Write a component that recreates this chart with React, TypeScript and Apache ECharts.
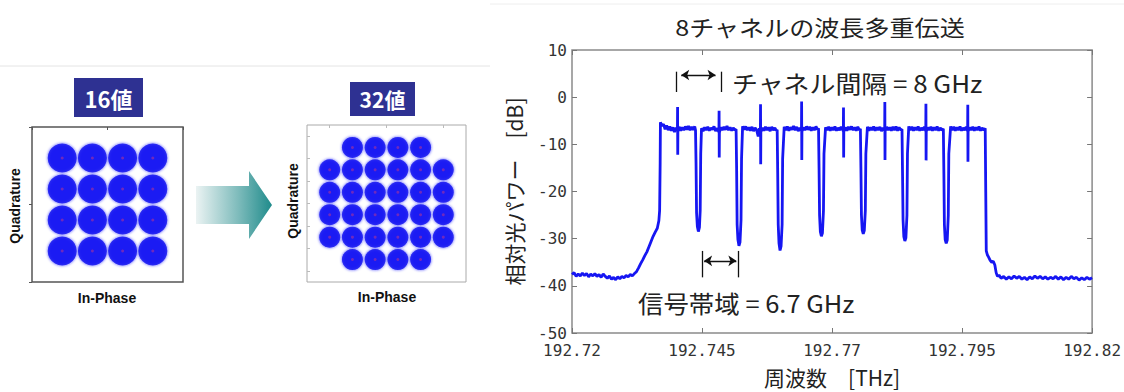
import React, { useEffect, useRef } from "react";
import * as echarts from "echarts";

// ---------- tick labels ----------
const xTickLabels = ["192.72", "192.745", "192.77", "192.795", "192.82"];

// ---------- constellations ----------
const qam16: [number, number][] = [
  [-3, 3], [-1, 3], [1, 3], [3, 3],
  [-3, 1], [-1, 1], [1, 1], [3, 1],
  [-3, -1], [-1, -1], [1, -1], [3, -1],
  [-3, -3], [-1, -3], [1, -3], [3, -3],
];
const qam32: [number, number][] = [
  [-3, 5], [-1, 5], [1, 5], [3, 5],
  [-5, 3], [-3, 3], [-1, 3], [1, 3], [3, 3], [5, 3],
  [-5, 1], [-3, 1], [-1, 1], [1, 1], [3, 1], [5, 1],
  [-5, -1], [-3, -1], [-1, -1], [1, -1], [3, -1], [5, -1],
  [-5, -3], [-3, -3], [-1, -3], [1, -3], [3, -3], [5, -3],
  [-3, -5], [-1, -5], [1, -5], [3, -5],
];

// ---------- spectrum: [offset from 192.72 THz in GHz, relative power dB] ----------
const leftFloor: [number, number][] = [
  [0, -37.6], [0.4, -37.2], [0.8, -38.0], [1.2, -37.5], [1.6, -37.9], [2.0, -37.3], [2.4, -37.8],
  [2.8, -37.4], [3.2, -38.1], [3.6, -37.5], [4.0, -37.9], [4.4, -37.4], [4.8, -38.0], [5.2, -37.6],
  [5.6, -38.2], [6.0, -37.5], [6.4, -38.0], [6.8, -38.4], [7.2, -37.9], [7.6, -38.6], [8.0, -38.2],
  [8.4, -38.7], [8.8, -38.1], [9.2, -38.5], [9.6, -38.0], [10.0, -38.3], [10.4, -37.8], [10.8, -38.1],
  [11.2, -37.6], [11.6, -37.9], [12.0, -37.4],
  [12.4, -37.0], [12.8, -36.2], [13.2, -35.3], [13.6, -34.5], [14.0, -33.6], [14.4, -32.8],
  [14.8, -31.7], [15.2, -30.6], [15.6, -29.5], [16.0, -28.6], [16.4, -27.8], [16.7, -26.2],
  [16.85, -24.0], [16.95, -14.0],
];
const channel1: [number, number][] = [
  [17.0, -5.3], [17.3, -6.1], [17.6, -5.7], [17.9, -6.8], [18.2, -6.0], [18.5, -7.0], [18.8, -6.2],
  [19.1, -7.1], [19.4, -6.4], [19.7, -7.4], [20.0, -6.5], [20.27, -7.0], [20.3, -2.1], [20.33, -12.2],
  [20.36, -7.2], [20.6, -6.3], [20.9, -7.1], [21.2, -6.4], [21.5, -7.0], [21.8, -6.2], [22.1, -6.9],
  [22.4, -6.1], [22.7, -7.0], [23.0, -6.3], [23.3, -6.9], [23.6, -6.2], [23.75, -7.0],
  [23.85, -14.0], [23.95, -24.5], [24.1, -27.4], [24.3, -28.5], [24.5, -27.6], [24.65, -24.0], [24.75, -12.0],
];
const channel2: [number, number][] = [
  [24.9, -6.6], [25.2, -7.2], [25.5, -6.4], [25.8, -7.0], [26.1, -6.3], [26.4, -7.1], [26.7, -6.5],
  [27.0, -6.9], [27.3, -6.2], [27.6, -7.2], [27.9, -6.6], [28.25, -7.4], [28.28, -2.9], [28.31, -12.8],
  [28.34, -7.5], [28.6, -6.4], [28.9, -7.0], [29.2, -6.3], [29.5, -6.9], [29.8, -6.1], [30.1, -7.0],
  [30.4, -6.4], [30.7, -7.1], [31.0, -6.5], [31.3, -7.0], [31.55, -6.8],
  [31.65, -15.0], [31.75, -27.0], [31.9, -30.2], [32.1, -31.5], [32.3, -30.8], [32.5, -26.0], [32.6, -13.0],
];
const channel3: [number, number][] = [
  [32.8, -6.2], [33.1, -6.9], [33.4, -6.2], [33.7, -7.0], [34.0, -6.4], [34.3, -7.1], [34.6, -6.3],
  [34.9, -7.2], [35.2, -6.5], [35.5, -7.0], [35.8, -8.3], [36.0, -6.6], [36.22, -7.3], [36.25, -1.5],
  [36.28, -14.2], [36.31, -7.4], [36.6, -6.5], [36.9, -7.1], [37.2, -6.3], [37.5, -7.0], [37.8, -6.4],
  [38.1, -7.2], [38.4, -6.3], [38.7, -7.0], [39.0, -6.5], [39.3, -7.1], [39.45, -6.9],
  [39.55, -16.0], [39.65, -27.0], [39.8, -31.0], [40.0, -32.5], [40.2, -31.6], [40.4, -27.0], [40.5, -13.0],
];
const channel4: [number, number][] = [
  [40.8, -6.3], [41.1, -7.0], [41.4, -6.2], [41.7, -7.1], [42.0, -6.4], [42.3, -6.9], [42.6, -6.1],
  [42.9, -7.0], [43.2, -6.3], [43.5, -7.2], [43.8, -6.5], [44.12, -7.1], [44.15, -0.9], [44.18, -13.3],
  [44.21, -7.3], [44.5, -6.4], [44.8, -7.0], [45.1, -6.2], [45.4, -6.9], [45.7, -6.3], [46.0, -7.1],
  [46.3, -6.4], [46.6, -7.0], [46.9, -6.2], [47.2, -6.9], [47.4, -6.6],
  [47.5, -15.0], [47.6, -25.0], [47.75, -28.5], [47.95, -29.5], [48.15, -28.8], [48.35, -24.0], [48.45, -12.0],
];
const channel5: [number, number][] = [
  [48.75, -6.4], [49.05, -7.0], [49.35, -6.3], [49.65, -7.1], [49.95, -6.4], [50.25, -7.0], [50.55, -6.2],
  [50.85, -7.1], [51.15, -6.5], [51.45, -7.0], [51.75, -6.3], [52.17, -7.2], [52.2, -2.2], [52.23, -12.8],
  [52.26, -7.3], [52.55, -6.4], [52.85, -7.1], [53.15, -6.3], [53.45, -6.9], [53.75, -6.2], [54.05, -7.0],
  [54.35, -6.4], [54.65, -7.1], [54.95, -6.3], [55.25, -7.0], [55.45, -6.7],
  [55.55, -15.0], [55.65, -25.0], [55.8, -28.2], [56.0, -29.0], [56.2, -28.3], [56.4, -24.0], [56.5, -12.0],
];
const channel6: [number, number][] = [
  [56.8, -6.3], [57.1, -7.1], [57.4, -6.4], [57.7, -7.0], [58.0, -6.2], [58.3, -7.1], [58.6, -6.4],
  [58.9, -7.0], [59.2, -6.3], [59.5, -7.2], [59.8, -6.5], [60.12, -7.1], [60.15, -1.0], [60.18, -13.3],
  [60.21, -7.2], [60.5, -6.3], [60.8, -7.0], [61.1, -6.4], [61.4, -7.1], [61.7, -6.3], [62.0, -7.0],
  [62.3, -6.2], [62.6, -7.1], [62.9, -6.4], [63.2, -7.0], [63.45, -6.8],
  [63.55, -16.0], [63.65, -26.0], [63.8, -29.6], [64.0, -30.5], [64.2, -29.8], [64.4, -25.0], [64.5, -12.0],
];
const channel7: [number, number][] = [
  [64.75, -6.2], [65.05, -7.0], [65.35, -6.3], [65.65, -7.1], [65.95, -6.4], [66.25, -7.0], [66.55, -6.2],
  [66.85, -7.1], [67.15, -6.5], [67.45, -7.0], [67.75, -6.3], [68.02, -7.2], [68.05, -1.4], [68.08, -13.4],
  [68.11, -7.3], [68.4, -6.4], [68.7, -7.0], [69.0, -6.3], [69.3, -7.1], [69.6, -6.4], [69.9, -7.0],
  [70.2, -6.2], [70.5, -7.1], [70.8, -6.5], [71.1, -7.0], [71.4, -6.7],
  [71.5, -16.0], [71.6, -27.0], [71.75, -30.2], [71.95, -31.0], [72.15, -30.3], [72.35, -25.0], [72.45, -12.0],
];
const channel8: [number, number][] = [
  [72.8, -6.2], [73.1, -7.0], [73.4, -6.3], [73.7, -7.1], [74.0, -6.4], [74.3, -7.0], [74.6, -6.2],
  [74.9, -7.1], [75.2, -6.5], [75.5, -7.0], [75.8, -6.3], [76.07, -7.2], [76.1, -1.6], [76.13, -13.7],
  [76.16, -7.3], [76.45, -6.4], [76.75, -7.0], [77.05, -6.3], [77.35, -7.1], [77.65, -6.4], [77.95, -7.0],
  [78.25, -6.2], [78.55, -7.1], [78.85, -6.5], [79.15, -7.0], [79.45, -6.6],
];
const rightFloor: [number, number][] = [
  [79.55, -20.0], [79.65, -32.6], [79.85, -33.4], [80.1, -33.9], [80.4, -34.6], [80.7, -35.0],
  [81.0, -34.8], [81.3, -35.6], [81.55, -37.2], [81.8, -38.0], [82.1, -37.7],
  [82.5, -38.4], [83.0, -38.0], [83.5, -38.6], [84.0, -38.1], [84.5, -38.5], [85.0, -37.9],
  [85.5, -38.4], [86.0, -38.0], [86.5, -38.6], [87.0, -38.2], [87.5, -38.7], [88.0, -38.1],
  [88.5, -38.5], [89.0, -37.9], [89.5, -38.4], [90.0, -38.0], [90.5, -38.5], [91.0, -38.1],
  [91.5, -38.6], [92.0, -38.2], [92.5, -38.5], [93.0, -38.0], [93.5, -38.6], [94.0, -38.1],
  [94.5, -38.7], [95.0, -38.2], [95.5, -38.6], [96.0, -38.0], [96.5, -38.5], [97.0, -38.2],
  [97.5, -38.8], [98.0, -38.3], [98.5, -38.7], [99.0, -38.2], [99.5, -38.6], [100, -38.3],
];

const spectrum = [
  ...leftFloor, ...channel1, ...channel2, ...channel3, ...channel4,
  ...channel5, ...channel6, ...channel7, ...channel8, ...rightFloor,
];

// annotation positions (GHz offset, dB)
const spacingBars = [20.1, 28.7];
const spacingArrow = [21.0, 27.6];
const bandBars = [25.1, 31.9];
const bandArrow = [25.4, 31.6];

const JP = '"Noto Sans CJK JP", sans-serif';
const MONO = '"DejaVu Sans Mono", monospace';
const BLUE = "#1616f2";

const hiddenAxisBase = {
  type: "value" as const,
  axisLabel: { show: false },
  splitLine: { show: false },
  axisLine: { show: false, onZero: false },
};

export default function App() {
  const ref = useRef<HTMLDivElement>(null);
  useEffect(() => {
    document.body.style.margin = "0";
    const chart = echarts.init(ref.current!, null, { renderer: "svg" });

    const clusterStyle = (size: number) => ({
      type: "scatter" as const,
      symbol: "circle",
      symbolSize: size,
      itemStyle: { color: "#1010f0", shadowBlur: 3, shadowColor: "rgba(20,20,255,0.9)" },
      silent: true,
    });
    const centerStyle = {
      type: "scatter" as const,
      symbol: "circle",
      symbolSize: 3,
      itemStyle: { color: "rgba(220,60,120,0.55)" },
      silent: true,
    };

    const option: any = {
      animation: false,
      backgroundColor: "#ffffff",
      grid: [
        { left: 32, top: 127, width: 151, height: 155, show: true, borderColor: "#555", borderWidth: 1.5, backgroundColor: "#fff" },
        { left: 307, top: 125, width: 159, height: 157, show: true, borderColor: "#aaa", borderWidth: 1, backgroundColor: "#fff" },
        { left: 572, top: 50, width: 521, height: 286, show: true, borderColor: "#8a8a8a", borderWidth: 1.5, backgroundColor: "#fff" },
      ],
      xAxis: [
        { ...hiddenAxisBase, gridIndex: 0, min: -5, max: 5, interval: 5, position: "top",
          axisTick: { show: true, inside: true, length: 3, lineStyle: { color: "#555" } } },
        { ...hiddenAxisBase, gridIndex: 1, min: -7, max: 7, position: "top",
          axisTick: { show: true, inside: true, length: 3, customValues: [-5, 0, 5], lineStyle: { color: "#bbb" } } },
        {
          type: "value", gridIndex: 2, min: 0, max: 100, interval: 25,
          axisLine: { show: false, onZero: false },
          splitLine: { show: false },
          axisTick: { show: true, inside: true, length: 5, lineStyle: { color: "#777" } },
          axisLabel: {
            formatter: (v: number) => xTickLabels[Math.round(v / 25)] ?? "",
            fontFamily: MONO, fontSize: 16, color: "#333", margin: 9,
          },
          name: "周波数　[THz]", nameLocation: "middle", nameGap: 33,
          nameTextStyle: { fontFamily: JP, fontSize: 21, color: "#222" },
        },
        { ...hiddenAxisBase, gridIndex: 2, min: 0, max: 100, interval: 25, position: "top",
          axisTick: { show: true, inside: true, length: 5, lineStyle: { color: "#777" } } },
      ],
      yAxis: [
        { ...hiddenAxisBase, gridIndex: 0, min: -5, max: 5, interval: 5,
          axisTick: { show: true, inside: false, length: 3, lineStyle: { color: "#555" } } },
        { ...hiddenAxisBase, gridIndex: 1, min: -7, max: 7,
          axisTick: { show: true, inside: true, length: 3, customValues: [-6, -4, -2, 0, 2, 4, 6], lineStyle: { color: "#bbb" } } },
        {
          type: "value", gridIndex: 2, min: -50, max: 10, interval: 10,
          axisLine: { show: false, onZero: false },
          splitLine: { show: false },
          axisTick: { show: true, inside: true, length: 5, lineStyle: { color: "#777" } },
          axisLabel: { fontFamily: MONO, fontSize: 16, color: "#333", margin: 5 },
          name: "相対光パワー　[dB]", nameLocation: "middle", nameGap: 48,
          nameTextStyle: { fontFamily: JP, fontSize: 21, color: "#222" },
        },
        { ...hiddenAxisBase, gridIndex: 2, min: -50, max: 10, interval: 10, position: "right",
          axisTick: { show: true, inside: true, length: 5, lineStyle: { color: "#777" } } },
      ],
      series: [
        { ...clusterStyle(29), name: "16値", xAxisIndex: 0, yAxisIndex: 0, data: qam16 },
        { ...centerStyle, xAxisIndex: 0, yAxisIndex: 0, data: qam16 },
        { ...clusterStyle(21), name: "32値", xAxisIndex: 1, yAxisIndex: 1, data: qam32 },
        { ...centerStyle, xAxisIndex: 1, yAxisIndex: 1, data: qam32 },
        {
          type: "line", name: "spectrum", xAxisIndex: 2, yAxisIndex: 2,
          data: spectrum, showSymbol: false, silent: true,
          lineStyle: { color: BLUE, width: 2.8 },
          markLine: {
            silent: true, animation: false,
            symbol: ["none", "none"], symbolSize: 8,
            label: { show: false },
            lineStyle: { color: "#111", width: 1.3, type: "solid" },
            data: [
              [{ coord: [spacingBars[0], 5.4] }, { coord: [spacingBars[0], 1.1] }],
              [{ coord: [spacingBars[1], 5.4] }, { coord: [spacingBars[1], 1.1] }],
              [{ coord: [spacingArrow[0], 4.7], symbol: "arrow" }, { coord: [spacingArrow[1], 4.7], symbol: "arrow" }],
              [{ coord: [bandBars[0], -32.6] }, { coord: [bandBars[0], -38.2] }],
              [{ coord: [bandBars[1], -32.6] }, { coord: [bandBars[1], -38.2] }],
              [{ coord: [bandArrow[0], -34.7], symbol: "arrow" }, { coord: [bandArrow[1], -34.7], symbol: "arrow" }],
            ],
          },
        },
      ],
      graphic: [
        { type: "line", shape: { x1: 0, y1: 66, x2: 490, y2: 66 }, style: { stroke: "#e4e4e4", lineWidth: 1 } },
        { type: "line", shape: { x1: 490, y1: 4, x2: 1124, y2: 4 }, style: { stroke: "#eeeeee", lineWidth: 1 } },
        // header boxes
        { type: "rect", shape: { x: 74, y: 78, width: 69, height: 39 }, style: { fill: "#2e3192" } },
        { type: "text", x: 108.5, y: 98, style: { text: "16値", fill: "#fff", font: `bold 22px ${JP}`, align: "center", verticalAlign: "middle" } },
        { type: "rect", shape: { x: 350, y: 82, width: 65, height: 34 }, style: { fill: "#2e3192" } },
        { type: "text", x: 382.5, y: 99, style: { text: "32値", fill: "#fff", font: `bold 21px ${JP}`, align: "center", verticalAlign: "middle" } },
        // axis titles of constellations
        { type: "text", x: 15, y: 206, rotation: Math.PI / 2, style: { text: "Quadrature", fill: "#111", font: 'bold 14px "Liberation Sans", Arial, sans-serif', align: "center", verticalAlign: "middle" } },
        { type: "text", x: 107, y: 298, style: { text: "In-Phase", fill: "#111", font: 'bold 14px "Liberation Sans", Arial, sans-serif', align: "center", verticalAlign: "middle" } },
        { type: "text", x: 293, y: 201, rotation: Math.PI / 2, style: { text: "Quadrature", fill: "#111", font: 'bold 14px "Liberation Sans", Arial, sans-serif', align: "center", verticalAlign: "middle" } },
        { type: "text", x: 387, y: 297, style: { text: "In-Phase", fill: "#111", font: 'bold 14px "Liberation Sans", Arial, sans-serif', align: "center", verticalAlign: "middle" } },
        // arrow
        {
          type: "polygon",
          shape: { points: [[196, 186], [249, 186], [249, 171], [272, 205], [249, 239], [249, 224], [196, 224]] },
          style: {
            fill: {
              type: "linear", x: 0, y: 0, x2: 1, y2: 0,
              colorStops: [
                { offset: 0, color: "rgba(235,243,243,1)" },
                { offset: 0.55, color: "#7fbcbc" },
                { offset: 1, color: "#1f8b8b" },
              ],
            },
          },
        },
        // spectrum title and annotations
        { type: "text", x: 820, y: 27, scaleX: 1.14, style: { text: "8チャネルの波長多重伝送", fill: "#222", font: `22px ${JP}`, align: "center", verticalAlign: "middle" } },
        { type: "text", x: 732, y: 82, scaleX: 1.08, style: { text: "チャネル間隔 = 8 GHz", fill: "#222", font: `24px ${JP}`, align: "left", verticalAlign: "middle" } },
        { type: "text", x: 638, y: 302, scaleX: 1.06, style: { text: "信号帯域 = 6.7 GHz", fill: "#222", font: `24px ${JP}`, align: "left", verticalAlign: "middle" } },
      ],
    };

    chart.setOption(option);
    return () => chart.dispose();
  }, []);
  return <div ref={ref} style={{ width: 1124, height: 392 }} />;
}
